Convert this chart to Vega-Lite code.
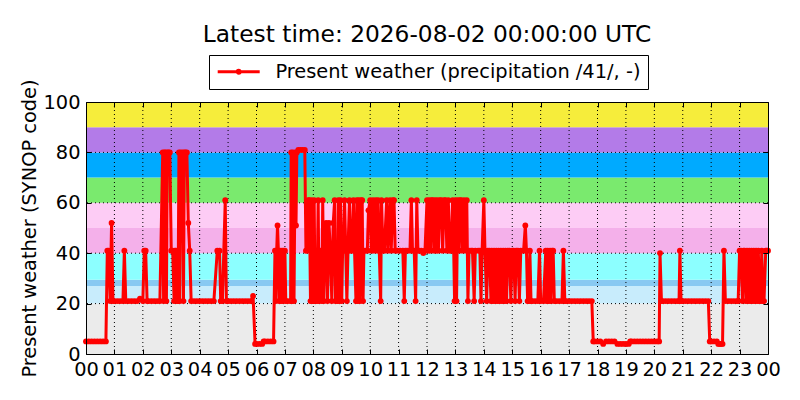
{
  "$schema": "https://vega.github.io/schema/vega-lite/v6.json",
  "description": "Present weather (SYNOP code) over one day, with the WaWa code groups as coloured bands",
  "width": 682,
  "height": 252,
  "autosize": "none",
  "padding": {"left": 86, "top": 102, "right": 32, "bottom": 46},
  "background": "white",
  "config": {"font": "DejaVu Sans", "view": {"stroke": null}},
  "title": {
    "text": "Latest time: 2026-08-02 00:00:00 UTC",
    "font": "DejaVu Sans",
    "fontSize": 23.3,
    "fontWeight": "normal",
    "color": "black",
    "anchor": "middle",
    "frame": "group",
    "baseline": "alphabetic",
    "offset": -11
  },
  "datasets": {
    "bands": [
      {"lo": 0, "hi": 20, "band": "0-19 no precipitation"},
      {"lo": 20, "hi": 27, "band": "20-26 past precipitation"},
      {"lo": 27, "hi": 29.5, "band": "27-29 blowing snow / dust"},
      {"lo": 29.5, "hi": 40, "band": "30-39 fog"},
      {"lo": 40, "hi": 50, "band": "40-49 precipitation"},
      {"lo": 50, "hi": 60, "band": "50-59 drizzle"},
      {"lo": 60, "hi": 70, "band": "60-69 rain"},
      {"lo": 70, "hi": 80, "band": "70-79 snow"},
      {"lo": 80, "hi": 90, "band": "80-89 showers"},
      {"lo": 90, "hi": 100, "band": "90-99 thunderstorm"}
    ],
    "hours": [
      {"h": 1}, {"h": 2}, {"h": 3}, {"h": 4}, {"h": 5}, {"h": 6}, {"h": 7}, {"h": 8},
      {"h": 9}, {"h": 10}, {"h": 11}, {"h": 12}, {"h": 13}, {"h": 14}, {"h": 15}, {"h": 16},
      {"h": 17}, {"h": 18}, {"h": 19}, {"h": 20}, {"h": 21}, {"h": 22}, {"h": 23}
    ],
    "levels": [{"v": 20}, {"v": 40}, {"v": 60}, {"v": 80}],
    "obs": [
      {"h": 0, "v": 5}, {"h": 0.1, "v": 5}, {"h": 0.2, "v": 5}, {"h": 0.3, "v": 5},
      {"h": 0.4, "v": 5}, {"h": 0.5, "v": 5}, {"h": 0.6, "v": 5}, {"h": 0.7, "v": 5},
      {"h": 0.75, "v": 41}, {"h": 0.8, "v": 41}, {"h": 0.85, "v": 21}, {"h": 0.9, "v": 52},
      {"h": 0.95, "v": 21}, {"h": 1.0, "v": 21}, {"h": 1.1, "v": 21}, {"h": 1.2, "v": 21},
      {"h": 1.3, "v": 21}, {"h": 1.35, "v": 41}, {"h": 1.4, "v": 21}, {"h": 1.5, "v": 21},
      {"h": 1.6, "v": 21}, {"h": 1.7, "v": 21}, {"h": 1.8, "v": 21}, {"h": 1.9, "v": 22},
      {"h": 2.0, "v": 21}, {"h": 2.05, "v": 41}, {"h": 2.1, "v": 41}, {"h": 2.15, "v": 21},
      {"h": 2.2, "v": 21}, {"h": 2.3, "v": 21}, {"h": 2.4, "v": 21}, {"h": 2.5, "v": 21},
      {"h": 2.6, "v": 21}, {"h": 2.7, "v": 80}, {"h": 2.73, "v": 21}, {"h": 2.76, "v": 80},
      {"h": 2.8, "v": 80}, {"h": 2.83, "v": 21}, {"h": 2.86, "v": 80}, {"h": 2.9, "v": 80},
      {"h": 2.95, "v": 80}, {"h": 3.0, "v": 41}, {"h": 3.05, "v": 41}, {"h": 3.1, "v": 21},
      {"h": 3.13, "v": 41}, {"h": 3.17, "v": 41}, {"h": 3.2, "v": 21}, {"h": 3.24, "v": 21},
      {"h": 3.27, "v": 80}, {"h": 3.3, "v": 21}, {"h": 3.33, "v": 80}, {"h": 3.4, "v": 80},
      {"h": 3.43, "v": 21}, {"h": 3.46, "v": 80}, {"h": 3.5, "v": 80}, {"h": 3.55, "v": 80},
      {"h": 3.6, "v": 52}, {"h": 3.65, "v": 41}, {"h": 3.7, "v": 21}, {"h": 3.8, "v": 21},
      {"h": 3.9, "v": 21}, {"h": 4.0, "v": 21}, {"h": 4.1, "v": 21}, {"h": 4.2, "v": 21},
      {"h": 4.3, "v": 21}, {"h": 4.4, "v": 21}, {"h": 4.5, "v": 21}, {"h": 4.62, "v": 41},
      {"h": 4.7, "v": 41}, {"h": 4.74, "v": 21}, {"h": 4.8, "v": 21}, {"h": 4.9, "v": 61},
      {"h": 4.94, "v": 21}, {"h": 5.0, "v": 21}, {"h": 5.1, "v": 21}, {"h": 5.2, "v": 21},
      {"h": 5.3, "v": 21}, {"h": 5.4, "v": 21}, {"h": 5.5, "v": 21}, {"h": 5.6, "v": 21},
      {"h": 5.7, "v": 21}, {"h": 5.8, "v": 21}, {"h": 5.88, "v": 23}, {"h": 5.95, "v": 4},
      {"h": 6.0, "v": 4}, {"h": 6.1, "v": 4}, {"h": 6.2, "v": 4}, {"h": 6.25, "v": 5},
      {"h": 6.3, "v": 5}, {"h": 6.4, "v": 5}, {"h": 6.5, "v": 5}, {"h": 6.6, "v": 5},
      {"h": 6.65, "v": 41}, {"h": 6.68, "v": 21}, {"h": 6.71, "v": 41}, {"h": 6.74, "v": 51},
      {"h": 6.77, "v": 41}, {"h": 6.8, "v": 21}, {"h": 6.83, "v": 41}, {"h": 6.86, "v": 21},
      {"h": 6.9, "v": 41}, {"h": 6.93, "v": 21}, {"h": 6.96, "v": 41}, {"h": 7.0, "v": 41},
      {"h": 7.03, "v": 21}, {"h": 7.1, "v": 21}, {"h": 7.2, "v": 21}, {"h": 7.22, "v": 80},
      {"h": 7.25, "v": 21}, {"h": 7.28, "v": 80}, {"h": 7.32, "v": 21}, {"h": 7.36, "v": 80},
      {"h": 7.39, "v": 51}, {"h": 7.42, "v": 80}, {"h": 7.47, "v": 81}, {"h": 7.55, "v": 81},
      {"h": 7.62, "v": 81}, {"h": 7.7, "v": 81}, {"h": 7.74, "v": 41}, {"h": 7.78, "v": 41},
      {"h": 7.82, "v": 61}, {"h": 7.86, "v": 61}, {"h": 7.9, "v": 21}, {"h": 7.94, "v": 61},
      {"h": 7.97, "v": 21}, {"h": 8.0, "v": 21}, {"h": 8.03, "v": 61}, {"h": 8.06, "v": 21},
      {"h": 8.1, "v": 41}, {"h": 8.13, "v": 21}, {"h": 8.17, "v": 61}, {"h": 8.2, "v": 21},
      {"h": 8.25, "v": 41}, {"h": 8.3, "v": 21}, {"h": 8.33, "v": 61}, {"h": 8.37, "v": 21},
      {"h": 8.4, "v": 41}, {"h": 8.45, "v": 52}, {"h": 8.5, "v": 21}, {"h": 8.55, "v": 52},
      {"h": 8.6, "v": 41}, {"h": 8.65, "v": 21}, {"h": 8.7, "v": 52}, {"h": 8.75, "v": 61},
      {"h": 8.78, "v": 21}, {"h": 8.82, "v": 41}, {"h": 8.85, "v": 21}, {"h": 8.88, "v": 61},
      {"h": 8.92, "v": 21}, {"h": 8.96, "v": 61}, {"h": 9.0, "v": 21}, {"h": 9.03, "v": 41},
      {"h": 9.05, "v": 41}, {"h": 9.1, "v": 61}, {"h": 9.14, "v": 41}, {"h": 9.18, "v": 21},
      {"h": 9.22, "v": 41}, {"h": 9.27, "v": 61}, {"h": 9.31, "v": 41}, {"h": 9.36, "v": 41},
      {"h": 9.41, "v": 61}, {"h": 9.45, "v": 41}, {"h": 9.5, "v": 21}, {"h": 9.53, "v": 61},
      {"h": 9.56, "v": 21}, {"h": 9.6, "v": 61}, {"h": 9.64, "v": 21}, {"h": 9.68, "v": 61},
      {"h": 9.72, "v": 61}, {"h": 9.75, "v": 21}, {"h": 9.78, "v": 41}, {"h": 9.85, "v": 41},
      {"h": 9.9, "v": 41}, {"h": 9.94, "v": 57}, {"h": 10.0, "v": 61}, {"h": 10.04, "v": 41},
      {"h": 10.1, "v": 61}, {"h": 10.14, "v": 41}, {"h": 10.2, "v": 61}, {"h": 10.24, "v": 41},
      {"h": 10.28, "v": 61}, {"h": 10.32, "v": 41}, {"h": 10.37, "v": 21}, {"h": 10.4, "v": 61},
      {"h": 10.45, "v": 41}, {"h": 10.5, "v": 41}, {"h": 10.58, "v": 61}, {"h": 10.62, "v": 41},
      {"h": 10.7, "v": 61}, {"h": 10.74, "v": 41}, {"h": 10.8, "v": 61}, {"h": 10.84, "v": 61},
      {"h": 10.88, "v": 41}, {"h": 10.95, "v": 41}, {"h": 11.05, "v": 41}, {"h": 11.15, "v": 41},
      {"h": 11.2, "v": 21}, {"h": 11.24, "v": 41}, {"h": 11.3, "v": 41}, {"h": 11.4, "v": 41},
      {"h": 11.45, "v": 61}, {"h": 11.49, "v": 41}, {"h": 11.55, "v": 41}, {"h": 11.6, "v": 21},
      {"h": 11.64, "v": 61}, {"h": 11.68, "v": 41}, {"h": 11.72, "v": 41}, {"h": 11.8, "v": 41},
      {"h": 11.87, "v": 40}, {"h": 11.93, "v": 41}, {"h": 12.0, "v": 61}, {"h": 12.04, "v": 41},
      {"h": 12.08, "v": 61}, {"h": 12.12, "v": 41}, {"h": 12.16, "v": 61}, {"h": 12.2, "v": 61},
      {"h": 12.24, "v": 41}, {"h": 12.28, "v": 61}, {"h": 12.32, "v": 41}, {"h": 12.36, "v": 61},
      {"h": 12.4, "v": 41}, {"h": 12.45, "v": 61}, {"h": 12.5, "v": 61}, {"h": 12.55, "v": 41},
      {"h": 12.6, "v": 61}, {"h": 12.65, "v": 61}, {"h": 12.7, "v": 41}, {"h": 12.75, "v": 61},
      {"h": 12.8, "v": 41}, {"h": 12.85, "v": 41}, {"h": 12.9, "v": 61}, {"h": 12.94, "v": 41},
      {"h": 12.97, "v": 21}, {"h": 13.0, "v": 61}, {"h": 13.04, "v": 21}, {"h": 13.08, "v": 61},
      {"h": 13.12, "v": 41}, {"h": 13.16, "v": 61}, {"h": 13.2, "v": 61}, {"h": 13.24, "v": 41},
      {"h": 13.3, "v": 61}, {"h": 13.35, "v": 41}, {"h": 13.4, "v": 61}, {"h": 13.44, "v": 21},
      {"h": 13.48, "v": 41}, {"h": 13.55, "v": 41}, {"h": 13.6, "v": 41}, {"h": 13.66, "v": 21},
      {"h": 13.7, "v": 41}, {"h": 13.8, "v": 41}, {"h": 13.86, "v": 41}, {"h": 13.9, "v": 21},
      {"h": 13.94, "v": 41}, {"h": 14.0, "v": 61}, {"h": 14.04, "v": 41}, {"h": 14.1, "v": 21},
      {"h": 14.14, "v": 41}, {"h": 14.2, "v": 41}, {"h": 14.25, "v": 21}, {"h": 14.28, "v": 41},
      {"h": 14.32, "v": 21}, {"h": 14.36, "v": 41}, {"h": 14.4, "v": 21}, {"h": 14.44, "v": 41},
      {"h": 14.48, "v": 21}, {"h": 14.52, "v": 41}, {"h": 14.56, "v": 21}, {"h": 14.6, "v": 41},
      {"h": 14.64, "v": 21}, {"h": 14.68, "v": 41}, {"h": 14.72, "v": 21}, {"h": 14.76, "v": 41},
      {"h": 14.8, "v": 21}, {"h": 14.84, "v": 41}, {"h": 14.9, "v": 41}, {"h": 14.95, "v": 21},
      {"h": 15.0, "v": 41}, {"h": 15.05, "v": 41}, {"h": 15.1, "v": 21}, {"h": 15.14, "v": 41},
      {"h": 15.2, "v": 41}, {"h": 15.25, "v": 21}, {"h": 15.3, "v": 41}, {"h": 15.4, "v": 41},
      {"h": 15.46, "v": 51}, {"h": 15.5, "v": 41}, {"h": 15.54, "v": 21}, {"h": 15.58, "v": 21},
      {"h": 15.62, "v": 41}, {"h": 15.66, "v": 21}, {"h": 15.7, "v": 21}, {"h": 15.8, "v": 21},
      {"h": 15.9, "v": 21}, {"h": 15.96, "v": 41}, {"h": 16.0, "v": 21}, {"h": 16.1, "v": 21},
      {"h": 16.18, "v": 41}, {"h": 16.21, "v": 21}, {"h": 16.25, "v": 41}, {"h": 16.28, "v": 21},
      {"h": 16.33, "v": 41}, {"h": 16.36, "v": 21}, {"h": 16.4, "v": 41}, {"h": 16.44, "v": 41},
      {"h": 16.48, "v": 21}, {"h": 16.55, "v": 21}, {"h": 16.65, "v": 21}, {"h": 16.75, "v": 21},
      {"h": 16.8, "v": 41}, {"h": 16.85, "v": 21}, {"h": 16.9, "v": 21}, {"h": 17.0, "v": 21},
      {"h": 17.1, "v": 21}, {"h": 17.2, "v": 21}, {"h": 17.3, "v": 21}, {"h": 17.4, "v": 21},
      {"h": 17.5, "v": 21}, {"h": 17.6, "v": 21}, {"h": 17.7, "v": 21}, {"h": 17.8, "v": 21},
      {"h": 17.85, "v": 5}, {"h": 17.9, "v": 5}, {"h": 18.0, "v": 5}, {"h": 18.1, "v": 5},
      {"h": 18.2, "v": 4}, {"h": 18.3, "v": 5}, {"h": 18.4, "v": 5}, {"h": 18.5, "v": 5},
      {"h": 18.6, "v": 5}, {"h": 18.7, "v": 4}, {"h": 18.8, "v": 4}, {"h": 18.9, "v": 4},
      {"h": 19.0, "v": 4}, {"h": 19.1, "v": 4}, {"h": 19.15, "v": 5}, {"h": 19.2, "v": 5},
      {"h": 19.3, "v": 5}, {"h": 19.4, "v": 5}, {"h": 19.5, "v": 5}, {"h": 19.6, "v": 5},
      {"h": 19.7, "v": 5}, {"h": 19.8, "v": 5}, {"h": 19.9, "v": 5}, {"h": 20.0, "v": 5},
      {"h": 20.1, "v": 5}, {"h": 20.17, "v": 5}, {"h": 20.2, "v": 40}, {"h": 20.25, "v": 21},
      {"h": 20.3, "v": 21}, {"h": 20.4, "v": 21}, {"h": 20.5, "v": 21}, {"h": 20.6, "v": 21},
      {"h": 20.7, "v": 21}, {"h": 20.8, "v": 21}, {"h": 20.87, "v": 21}, {"h": 20.9, "v": 41},
      {"h": 20.94, "v": 21}, {"h": 21.0, "v": 21}, {"h": 21.1, "v": 21}, {"h": 21.2, "v": 21},
      {"h": 21.3, "v": 21}, {"h": 21.4, "v": 21}, {"h": 21.5, "v": 21}, {"h": 21.6, "v": 21},
      {"h": 21.7, "v": 21}, {"h": 21.8, "v": 21}, {"h": 21.9, "v": 21}, {"h": 21.95, "v": 5},
      {"h": 22.0, "v": 5}, {"h": 22.1, "v": 5}, {"h": 22.2, "v": 5}, {"h": 22.25, "v": 4},
      {"h": 22.3, "v": 4}, {"h": 22.35, "v": 4}, {"h": 22.4, "v": 4}, {"h": 22.45, "v": 41},
      {"h": 22.5, "v": 21}, {"h": 22.6, "v": 21}, {"h": 22.7, "v": 21}, {"h": 22.8, "v": 21},
      {"h": 22.9, "v": 21}, {"h": 22.95, "v": 21}, {"h": 23.0, "v": 41}, {"h": 23.05, "v": 41},
      {"h": 23.1, "v": 21}, {"h": 23.14, "v": 41}, {"h": 23.18, "v": 41}, {"h": 23.22, "v": 21},
      {"h": 23.26, "v": 41}, {"h": 23.3, "v": 21}, {"h": 23.34, "v": 41}, {"h": 23.38, "v": 21},
      {"h": 23.42, "v": 41}, {"h": 23.46, "v": 21}, {"h": 23.5, "v": 41}, {"h": 23.54, "v": 21},
      {"h": 23.58, "v": 41}, {"h": 23.62, "v": 21}, {"h": 23.66, "v": 41}, {"h": 23.7, "v": 21},
      {"h": 23.74, "v": 21}, {"h": 23.78, "v": 41}, {"h": 23.82, "v": 21}, {"h": 23.86, "v": 21},
      {"h": 23.92, "v": 41}, {"h": 23.96, "v": 41}, {"h": 24.0, "v": 41}
    ]
  },
  "layer": [
    {
      "data": {"name": "bands"},
      "mark": {"type": "rect"},
      "encoding": {
        "x": {
          "datum": 0,
          "type": "quantitative",
          "scale": {"domain": [0, 24], "nice": false, "zero": false},
          "axis": {
            "orient": "bottom",
            "values": [0, 1, 2, 3, 4, 5, 6, 7, 8, 9, 10, 11, 12, 13, 14, 15, 16, 17, 18, 19, 20, 21, 22, 23, 24],
            "labelExpr": "(datum.value % 24 < 10 ? '0' : '') + (datum.value % 24)",
            "title": null,
            "grid": false,
            "domainColor": "black",
            "domainWidth": 1,
            "tickSize": -5,
            "tickColor": "black",
            "labelPadding": 11,
            "labelFont": "DejaVu Sans",
            "labelFontSize": 19.4,
            "labelColor": "black",
            "labelFlush": false,
            "labelOverlap": false,
            "labelBound": false,
            "zindex": 1
          }
        },
        "x2": {"datum": 24},
        "y": {
          "field": "lo",
          "type": "quantitative",
          "scale": {"domain": [0, 100], "nice": false, "zero": false},
          "axis": {
            "orient": "left",
            "values": [0, 20, 40, 60, 80, 100],
            "title": "Present weather (SYNOP code)",
            "titleFont": "DejaVu Sans",
            "titleFontSize": 19.4,
            "titleFontWeight": "normal",
            "titleColor": "black",
            "titleAngle": 270,
            "titleX": -57,
            "titleY": 126,
            "titleAlign": "center",
            "titleBaseline": "middle",
            "grid": false,
            "domainColor": "black",
            "domainWidth": 1,
            "tickSize": -5,
            "tickColor": "black",
            "labelPadding": 11,
            "labelFont": "DejaVu Sans",
            "labelFontSize": 19.4,
            "labelColor": "black",
            "labelFlush": false,
            "labelOverlap": false,
            "zindex": 1
          }
        },
        "y2": {"field": "hi"},
        "fill": {
          "field": "band",
          "type": "nominal",
          "scale": {
            "domain": [
              "0-19 no precipitation", "20-26 past precipitation", "27-29 blowing snow / dust",
              "30-39 fog", "40-49 precipitation", "50-59 drizzle", "60-69 rain",
              "70-79 snow", "80-89 showers", "90-99 thunderstorm"
            ],
            "range": [
              "#ebebeb", "#c8ecfc", "#88c9f2", "#8cffff", "#f4b0ea",
              "#fdccf5", "#7aea6e", "#00aaff", "#b37be8", "#f6ed3b"
            ]
          },
          "legend": null
        }
      }
    },
    {
      "data": {"name": "hours"},
      "mark": {"type": "rule", "color": "black", "strokeWidth": 1, "strokeDash": [1, 3]},
      "encoding": {
        "x": {
          "field": "h",
          "type": "quantitative",
          "axis": {
            "orient": "top",
            "values": [0, 1, 2, 3, 4, 5, 6, 7, 8, 9, 10, 11, 12, 13, 14, 15, 16, 17, 18, 19, 20, 21, 22, 23, 24],
            "labels": false,
            "title": null,
            "grid": false,
            "domainColor": "black",
            "domainWidth": 1,
            "tickSize": -5,
            "tickColor": "black",
            "zindex": 1
          }
        }
      }
    },
    {
      "data": {"name": "levels"},
      "mark": {"type": "rule", "color": "black", "strokeWidth": 1, "strokeDash": [1, 3]},
      "encoding": {
        "y": {
          "field": "v",
          "type": "quantitative",
          "axis": {
            "orient": "right",
            "values": [0, 20, 40, 60, 80, 100],
            "labels": false,
            "title": null,
            "grid": false,
            "domainColor": "black",
            "domainWidth": 1,
            "tickSize": -5,
            "tickColor": "black",
            "zindex": 1
          }
        }
      }
    },
    {
      "data": {"name": "obs"},
      "mark": {"type": "line", "strokeWidth": 3, "interpolate": "linear"},
      "encoding": {
        "x": {"field": "h", "type": "quantitative", "axis": null},
        "y": {"field": "v", "type": "quantitative", "axis": null},
        "stroke": {
          "datum": "Present weather (precipitation /41/, -)",
          "type": "nominal",
          "scale": {"range": ["#ff0000"]},
          "legend": {
            "orient": "none",
            "legendX": 123,
            "legendY": -47,
            "title": null,
            "padding": 7,
            "strokeColor": "black",
            "fillColor": "white",
            "cornerRadius": 0,
            "labelFont": "DejaVu Sans",
            "labelFontSize": 19.4,
            "labelColor": "black",
            "labelLimit": 0,
            "labelOffset": 40,
            "symbolType": "M-1,0H4.25M1.4375,0A0.1875,0.1875 0 1,0 1.8125,0A0.1875,0.1875 0 1,0 1.4375,0Z",
            "symbolSize": 256,
            "symbolStrokeWidth": 3,
            "symbolStrokeColor": "#ff0000",
            "symbolFillColor": "#ff0000"
          }
        }
      }
    },
    {
      "data": {"name": "obs"},
      "mark": {"type": "circle", "size": 34, "color": "#ff0000", "opacity": 1},
      "encoding": {
        "x": {"field": "h", "type": "quantitative", "axis": null},
        "y": {"field": "v", "type": "quantitative", "axis": null}
      }
    }
  ],
  "resolve": {"axis": {"x": "independent", "y": "independent"}}
}
